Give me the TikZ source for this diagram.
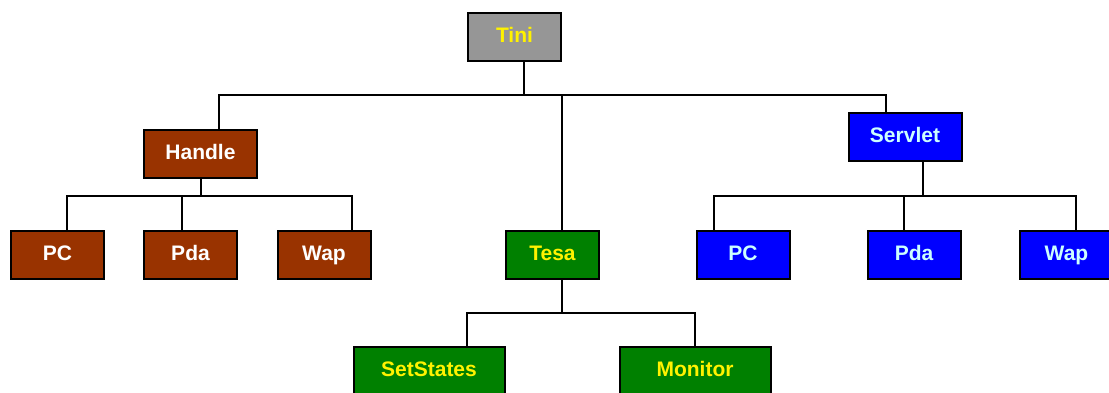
\documentclass[tikz,border=0pt]{standalone}
\usepackage{fontspec}
\setmainfont{Liberation Sans}
\definecolor{tinigray}{HTML}{969696}
\definecolor{handlebrown}{HTML}{993300}
\definecolor{tesagreen}{HTML}{008000}
\definecolor{servletblue}{HTML}{0000FF}
\definecolor{servlettext}{HTML}{CCFFFF}
\tikzset{
  box/.style={draw=black, line width=2pt, inner sep=0pt, minimum width=93pt,
    minimum height=48pt, text height=15pt, text depth=4pt,
    font=\fontsize{21}{25}\selectfont\bfseries},
  wide/.style={minimum width=113pt},
  wider/.style={minimum width=151pt},
  graybox/.style={box, fill=tinigray, text=yellow},
  brownbox/.style={box, fill=handlebrown, text=white},
  greenbox/.style={box, fill=tesagreen, text=yellow},
  bluebox/.style={box, fill=servletblue, text=servlettext},
  link/.style={line width=2pt, black}
}
\begin{document}
\begin{tikzpicture}[x=1pt, y=-1pt]
\useasboundingbox (0,0) rectangle (1109,393);
\clip (0,0) rectangle (1109,393);
% radice
\node[graybox] (tini) at (514.5, 37.5) {Tini};
\node[brownbox, wide] (handle) at (200.5, 154) {Handle};
\node[bluebox, wide] (servlet) at (905, 137.5) {Servlet};
\node[greenbox] (tesa) at (552.5, 254.5) {Tesa};
\coordinate (topbar) at (524, 95.5);
\draw[link] ([xshift=9.5pt]tini.south) -- (topbar);
\draw[link] ([xshift=18.5pt]handle.north) |- (topbar);
\draw[link] ([xshift=-19.3pt]servlet.north) |- (topbar);
\draw[link] ([xshift=9.5pt]tesa.north) |- (topbar);
% Handle
\node[brownbox] (hpc) at (57.5, 254.5) {PC};
\node[brownbox] (hpda) at (190.5, 254.5) {Pda};
\node[brownbox] (hwap) at (324, 254.5) {Wap};
\coordinate (hbar) at (200.5, 196);
\draw[link] (handle.south) -- (hbar);
\draw[link] ([xshift=9.2pt]hpc.north) |- (hbar);
\draw[link] ([xshift=-8.8pt]hpda.north) |- (hbar);
\draw[link] ([xshift=28pt]hwap.north) |- (hbar);
% Servlet
\node[bluebox] (spc) at (743, 254.5) {PC};
\node[bluebox] (spda) at (914, 254.5) {Pda};
\node[bluebox] (swap) at (1066.5, 254.5) {Wap};
\coordinate (sbar) at (923.3, 196);
\draw[link] ([xshift=18.3pt]servlet.south) -- (sbar);
\draw[link] ([xshift=-29pt]spc.north) |- (sbar);
\draw[link] ([xshift=-9.7pt]spda.north) |- (sbar);
\draw[link] ([xshift=9.2pt]swap.north) |- (sbar);
% Tesa
\node[greenbox, wider] (setstates) at (429, 371) {SetStates};
\node[greenbox, wider] (monitor) at (695, 371) {Monitor};
\coordinate (tbar) at (561.7, 313);
\draw[link] ([xshift=9.2pt]tesa.south) -- (tbar);
\draw[link] ([xshift=37.7pt]setstates.north) |- (tbar);
\draw[link] (monitor.north) |- (tbar);
\end{tikzpicture}
\end{document}
